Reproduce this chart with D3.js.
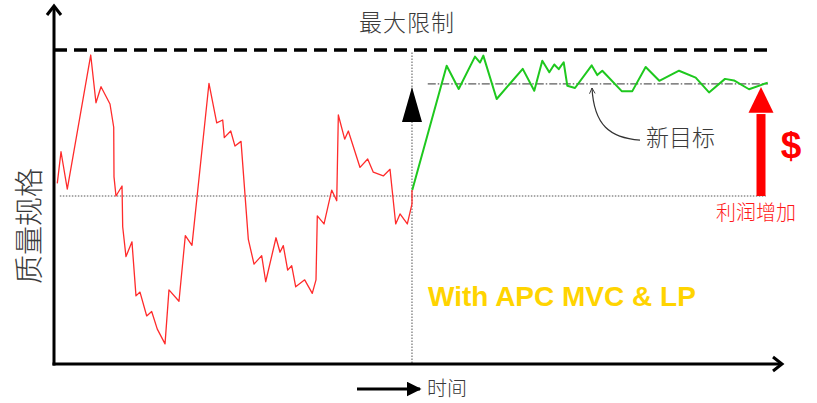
<!DOCTYPE html>
<html>
<head>
<meta charset="utf-8">
<script src="https://cdn.jsdelivr.net/npm/d3@7"></script>
<style>
  html, body { margin: 0; padding: 0; background: #fff; }
  svg { display: block; }
</style>
</head>
<body>
<div id="chart"></div>
<script>
// time index (0-100) and quality value (0-10, max limit = 10)
const redTime = [0.45, 0.96, 1.82, 5.03, 5.75, 6.44, 7.67, 8.18, 8.22, 8.49, 9.32, 9.41, 9.86, 10.68, 11.23, 11.78, 12.70, 13.38, 14.15, 15.21, 15.75, 17.12, 17.99, 18.90, 21.23, 22.29, 23.11, 23.33, 24.21, 24.79, 25.62, 26.62, 27.40, 28.45, 29.00, 30.41, 30.96, 31.41, 32.01, 32.56, 33.11, 34.34, 35.38, 35.89, 36.07, 36.99, 38.04, 38.73, 38.95, 39.82, 40.32, 41.92, 42.97, 43.74, 45.11, 46.03, 46.81, 47.40, 48.40, 49.04, 49.04]
const redValue = [5.75, 6.76, 5.57, 9.84, 8.32, 8.83, 8.28, 7.54, 5.96, 5.35, 5.67, 4.37, 3.42, 3.89, 2.17, 2.29, 1.53, 1.67, 1.11, 0.64, 2.36, 2.00, 4.09, 3.78, 8.94, 7.68, 7.77, 7.21, 7.42, 6.94, 7.09, 3.97, 3.18, 3.45, 2.62, 4.02, 3.56, 3.77, 2.99, 3.13, 2.46, 2.68, 2.25, 2.68, 4.72, 4.46, 5.54, 5.20, 7.93, 7.16, 7.42, 6.26, 6.53, 6.11, 5.99, 6.20, 4.46, 4.78, 4.46, 5.10, 5.54]

const greenTime = [49.08, 53.79, 55.44, 57.67, 58.36, 58.81, 60.64, 64.21, 65.79, 66.89, 67.85, 68.53, 69.14, 69.82, 70.32, 71.37, 73.66, 74.42, 75.11, 77.77, 79.22, 81.05, 82.92, 85.62, 87.90, 89.73, 91.92, 93.15, 95.21, 97.77]
const greenValue = [5.54, 9.50, 8.76, 9.79, 9.60, 9.82, 8.44, 9.40, 8.70, 9.66, 9.29, 9.54, 9.39, 9.61, 8.86, 8.79, 9.51, 9.20, 9.34, 8.69, 8.69, 9.46, 9.02, 9.34, 9.12, 8.65, 9.08, 9.03, 8.75, 8.96]

const maxLimit = 10
const specValue = 5.35
const newTarget = 8.92
const switchTime = 49.04
const profitTime = 96.85

const labels = {
  title: '最大限制',
  yAxis: '质量规格',
  xAxis: '时间',
  target: '新目标',
  profit: '利润增加',
  dollar: '$',
  apc: 'With APC MVC & LP'
}

const width = 817, height = 403
const cjk = '"Noto Sans CJK SC", "Noto Sans", sans-serif'

const svg = d3.select('#chart').append('svg')
  .attr('width', width)
  .attr('height', height)

const x = d3.scaleLinear().domain([0, 100]).range([54, 784])
const y = d3.scaleLinear().domain([0, 10]).range([364, 50])

const defs = svg.append('defs')
defs.append('marker')
  .attr('id', 'head-fill')
  .attr('viewBox', '0 0 10 10')
  .attr('refX', 9).attr('refY', 5)
  .attr('markerWidth', 5).attr('markerHeight', 5)
  .attr('markerUnits', 'strokeWidth')
  .attr('orient', 'auto')
  .append('path').attr('d', 'M0,0 L10,5 L0,10 z').attr('fill', '#000')

defs.append('marker')
  .attr('id', 'head-open')
  .attr('viewBox', '0 0 10 10')
  .attr('refX', 9).attr('refY', 5)
  .attr('markerWidth', 7).attr('markerHeight', 7)
  .attr('markerUnits', 'userSpaceOnUse')
  .attr('orient', 'auto')
  .append('path').attr('d', 'M1,1 L9,5 L1,9').attr('fill', 'none')
    .attr('stroke', '#333').attr('stroke-width', 1.3)

// reference lines
svg.append('line')
  .attr('x1', x(0)).attr('x2', x(97.9))
  .attr('y1', y(maxLimit)).attr('y2', y(maxLimit))
  .attr('stroke', '#000').attr('stroke-width', 3.5)
  .attr('stroke-dasharray', '13,7')

svg.append('line')
  .attr('x1', x(0.8)).attr('x2', x(97.5))
  .attr('y1', y(specValue)).attr('y2', y(specValue))
  .attr('stroke', '#555').attr('stroke-width', 1)
  .attr('stroke-dasharray', '1.5,1.5')

svg.append('line')
  .attr('x1', x(switchTime)).attr('x2', x(switchTime))
  .attr('y1', y(9.92)).attr('y2', y(0))
  .attr('stroke', '#555').attr('stroke-width', 1)
  .attr('stroke-dasharray', '1.5,1.5')

svg.append('line')
  .attr('x1', x(51.2)).attr('x2', x(97.8))
  .attr('y1', y(newTarget)).attr('y2', y(newTarget))
  .attr('stroke', '#333').attr('stroke-width', 1)
  .attr('stroke-dasharray', '8,2,1.5,2')

// series
const line = d3.line().x(d => x(d[0])).y(d => y(d[1]))

svg.append('path')
  .datum(d3.zip(redTime, redValue))
  .attr('d', line)
  .attr('fill', 'none')
  .attr('stroke', '#ff2b2b')
  .attr('stroke-width', 1.3)
  .attr('stroke-linejoin', 'round')

svg.append('path')
  .datum(d3.zip(greenTime, greenValue))
  .attr('d', line)
  .attr('fill', 'none')
  .attr('stroke', '#1ec81e')
  .attr('stroke-width', 2)
  .attr('stroke-linejoin', 'round')

// axes (plain arrows, no ticks)
svg.append('line')
  .attr('x1', x(0)).attr('x2', x(0))
  .attr('y1', y(0) + 1.5).attr('y2', 6)
  .attr('stroke', '#000').attr('stroke-width', 3)
svg.append('path')
  .attr('d', `M${x(0) - 7},15 L${x(0)},6 L${x(0) + 7},15`)
  .attr('fill', 'none').attr('stroke', '#000').attr('stroke-width', 3)

svg.append('line')
  .attr('x1', x(0) - 1.5).attr('x2', 782)
  .attr('y1', y(0)).attr('y2', y(0))
  .attr('stroke', '#000').attr('stroke-width', 3)
svg.append('path')
  .attr('d', `M773,${y(0) - 7} L782,${y(0)} L773,${y(0) + 7}`)
  .attr('fill', 'none').attr('stroke', '#000').attr('stroke-width', 3)

// black triangle at switch point
const tx = x(switchTime)
svg.append('path')
  .attr('d', `M${tx},${y(8.82)} L${tx + 10},${y(7.71)} L${tx - 10},${y(7.71)} Z`)
  .attr('fill', '#000')

// red profit arrow
const px = x(profitTime)
svg.append('rect')
  .attr('x', px - 4.5).attr('width', 9)
  .attr('y', y(7.96)).attr('height', y(specValue) - y(7.96))
  .attr('fill', '#ff0000')
svg.append('path')
  .attr('d', `M${px},${y(8.82)} L${px + 12.5},${y(8.0)} L${px - 12.5},${y(8.0)} Z`)
  .attr('fill', '#ff0000')

// curved pointer to new target
svg.append('path')
  .attr('d', `M640,${y(7.13)} C610,${y(7.2)} 594,${y(7.6)} 592,${y(8.79)}`)
  .attr('fill', 'none').attr('stroke', '#333').attr('stroke-width', 1.2)
  .attr('marker-end', 'url(#head-open)')

// time arrow
svg.append('line')
  .attr('x1', 357).attr('x2', 420)
  .attr('y1', 389).attr('y2', 389)
  .attr('stroke', '#000').attr('stroke-width', 3)
  .attr('marker-end', 'url(#head-fill)')

// texts
svg.append('text')
  .attr('x', 407).attr('y', 31)
  .attr('text-anchor', 'middle')
  .style('font-family', cjk).style('font-size', '23px').style('font-weight', 300)
  .attr('fill', '#3a3a3a')
  .style('letter-spacing', '1px')
  .text(labels.title)

svg.append('text')
  .attr('transform', 'translate(40,226) rotate(-90)')
  .attr('text-anchor', 'middle')
  .style('font-family', cjk).style('font-size', '29px').style('font-weight', 300)
  .attr('fill', '#3a3a3a')
  .text(labels.yAxis)

svg.append('text')
  .attr('x', 427).attr('y', 396)
  .style('font-family', cjk).style('font-size', '20px').style('font-weight', 300)
  .attr('fill', '#3a3a3a')
  .text(labels.xAxis)

svg.append('text')
  .attr('x', 646).attr('y', 146)
  .style('font-family', cjk).style('font-size', '23px').style('font-weight', 300)
  .attr('fill', '#3a3a3a')
  .text(labels.target)

svg.append('text')
  .attr('x', 756).attr('y', 220)
  .attr('text-anchor', 'middle')
  .style('font-family', cjk).style('font-size', '20px').style('font-weight', 300)
  .attr('fill', '#ff1a1a')
  .text(labels.profit)

svg.append('text')
  .attr('x', 791).attr('y', 158)
  .attr('text-anchor', 'middle')
  .style('font-family', '"Liberation Sans", Arial, sans-serif')
  .style('font-size', '37px').style('font-weight', 'bold').attr('fill', '#ff0000')
  .text(labels.dollar)

svg.append('text')
  .attr('x', 428).attr('y', 306)
  .style('font-family', '"Liberation Sans", Arial, sans-serif')
  .style('font-size', '28px').style('font-weight', 'bold').attr('fill', '#ffd400')
  .text(labels.apc)
</script>
</body>
</html>
